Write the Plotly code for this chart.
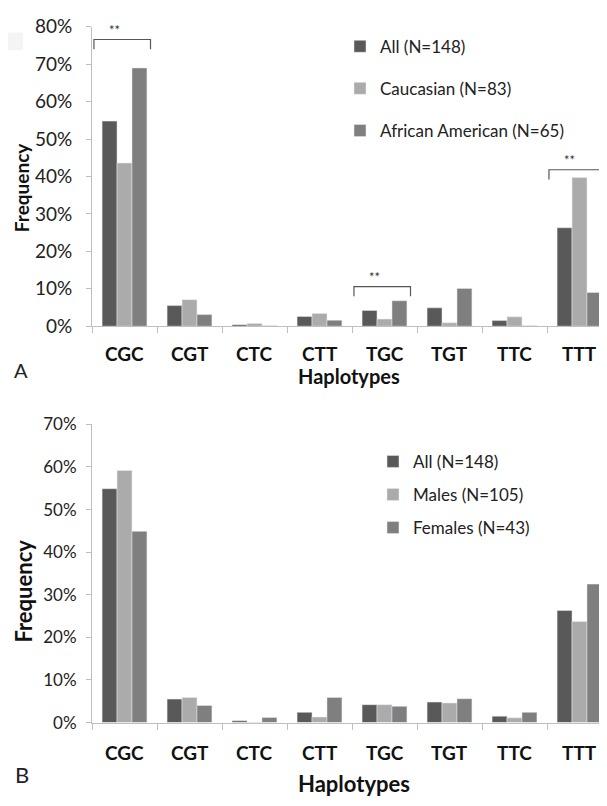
import plotly.graph_objects as go

haplotypes = ["CGC", "CGT", "CTC", "CTT", "TGC", "TGT", "TTC", "TTT"]

# Panel A (ethnicity)
a_all = [0.548, 0.055, 0.004, 0.026, 0.042, 0.049, 0.015, 0.263]
a_cauc = [0.436, 0.071, 0.007, 0.034, 0.019, 0.009, 0.025, 0.397]
a_afam = [0.690, 0.031, 0.001, 0.016, 0.068, 0.101, 0.001, 0.090]
a_names = ["All (N=148)", "Caucasian (N=83)", "African American (N=65)"]

# Panel B (gender)
b_all = [0.549, 0.055, 0.004, 0.024, 0.042, 0.048, 0.015, 0.263]
b_male = [0.592, 0.059, 0.001, 0.013, 0.042, 0.046, 0.011, 0.237]
b_female = [0.449, 0.040, 0.012, 0.059, 0.038, 0.056, 0.024, 0.325]
b_names = ["All (N=148)", "Males (N=105)", "Females (N=43)"]

# significance brackets in panel A
sig_haps = ["CGC", "TGC", "TTT"]
sig_heights = [0.766, 0.106, 0.418]

colors = ["#595959", "#ababab", "#7f7f7f"]
PAGE_W, PAGE_H = 607, 806
OFF = 8  # default body margin of the page
W, H = PAGE_W - 2 * OFF, PAGE_H - 2 * OFF
FONT = "Lato, Open Sans, sans-serif"

fig = go.Figure()
for vals, name, c in zip([a_all, a_cauc, a_afam], a_names, colors):
    fig.add_trace(go.Bar(x=haplotypes, y=vals, name=name, marker_color=c,
                         xaxis="x", yaxis="y", legend="legend", legendgroup="a" + name))
for vals, name, c in zip([b_all, b_male, b_female], b_names, colors):
    fig.add_trace(go.Bar(x=haplotypes, y=vals, name=name, marker_color=c,
                         xaxis="x2", yaxis="y2", legend="legend2", legendgroup="b" + name))

def py(px):
    return 1 - (px - OFF) / H

def pxx(px):
    return (px - OFF) / W

axis_common = dict(showline=True, linecolor="#bfbfbf", linewidth=1, showgrid=False, zeroline=False)
right_cats = (PAGE_W - OFF - 92) / 65.0
xcommon = dict(axis_common, type="category", range=[-0.5, -0.5 + right_cats], ticks="outside", ticklen=6,
               tickcolor="#bfbfbf", tickson="boundaries", showticklabels=False)

fig.update_layout(
    width=W, height=H, margin=dict(l=0, r=0, t=0, b=0),
    paper_bgcolor="white", plot_bgcolor="white",
    barmode="group", bargap=0.31, bargroupgap=0,
    font=dict(family=FONT, color="#222222"),
    xaxis=dict(xcommon, domain=[pxx(92), 1], anchor="y"),
    yaxis=dict(axis_common, domain=[py(324), py(16)], range=[0, 0.8], tickformat=".0%",
               dtick=0.1, ticks="outside", ticklen=5, tickcolor="#bfbfbf", ticklabelstandoff=10,
               tickfont=dict(size=19, color="#222"), anchor="x"),
    xaxis2=dict(xcommon, domain=[pxx(92), 1], anchor="y2"),
    yaxis2=dict(axis_common, domain=[py(731.7), py(425)], range=[0, 0.7], tickformat=".0%",
                dtick=0.1, ticks="outside", ticklen=5, tickcolor="#bfbfbf", ticklabelstandoff=6,
                tickfont=dict(size=17, color="#222"), anchor="x2"),
    legend=dict(x=pxx(340), y=py(18), xanchor="left", yanchor="top", tracegroupgap=17,
                font=dict(size=17, color="#222"), bgcolor="rgba(0,0,0,0)"),
    legend2=dict(x=pxx(373), y=py(445), xanchor="left", yanchor="top", tracegroupgap=8,
                 font=dict(size=17, color="#222"), bgcolor="rgba(0,0,0,0)"),
)

def ann(x, y, text, size, color="#111", angle=0, xref="paper"):
    return dict(x=x, y=y, xref=xref, yref="paper", text=text, textangle=angle,
                showarrow=False, xanchor="center", yanchor="middle",
                font=dict(size=size, color=color))

annotations = []
for h in haplotypes:
    annotations.append(ann(h, py(352), f"<b>{h}</b>", 19, xref="x"))
    annotations.append(ann(h, py(762), f"<b>{h}</b>", 19, xref="x2"))
annotations += [
    ann(pxx(349), py(375), "<b>Haplotypes</b>", 20),
    ann(pxx(354), py(794), "<b>Haplotypes</b>", 22),
    ann(pxx(21), py(182), "<b>Frequency</b>", 19, angle=-90),
    ann(pxx(24), py(597), "<b>Frequency</b>", 22, angle=-90),
    ann(pxx(21), py(369), "A", 20, "#222"),
    ann(pxx(22), py(785), "B", 22, "#222"),
]

shapes = []
hidx = {h: i for i, h in enumerate(haplotypes)}
for h, top in zip(sig_haps, sig_heights):
    i = hidx[h]
    x0, x1 = i - 0.47, i + 0.40
    drop = 0.026
    shapes.append(dict(type="path", xref="x", yref="y",
                       path=f"M {x0},{top-drop} L {x0},{top} L {x1},{top} L {x1},{top-drop}",
                       line=dict(color="#555", width=1.2)))
    annotations.append(dict(x=(x0 + x1) / 2 - 0.12, y=top, xref="x", yref="y", text="**",
                            showarrow=False, xanchor="center", yanchor="bottom",
                            font=dict(size=13, color="#333")))
shapes.append(dict(type="rect", xref="paper", yref="paper", x0=pxx(8), x1=pxx(23),
                   y0=py(40), y1=py(22), fillcolor="#f4f4f4", line=dict(width=0)))

fig.update_layout(annotations=annotations, shapes=shapes)
fig.write_html("out.html")
